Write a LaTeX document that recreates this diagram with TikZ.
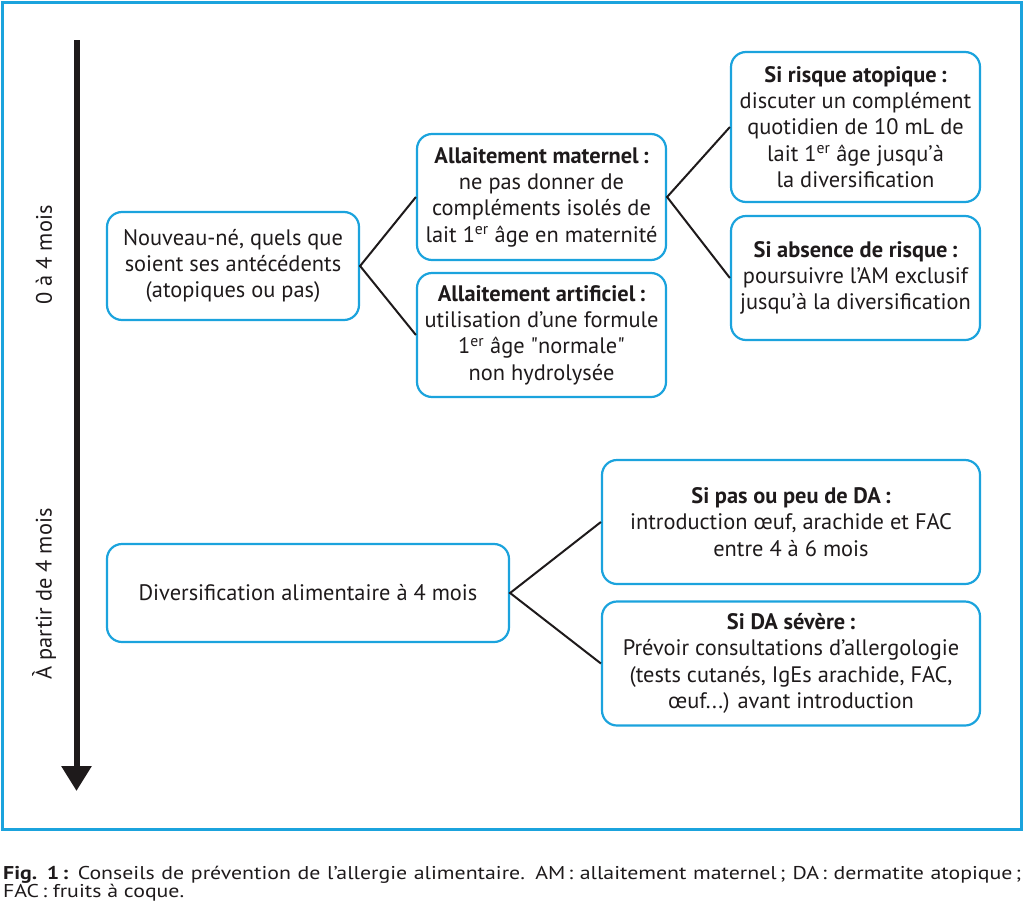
\documentclass[tikz,border=0pt]{standalone}
\usepackage{fontspec}
\setmainfont{PT Sans}
\newfontfamily\capfont[FakeStretch=1.18]{PT Sans}
\usetikzlibrary{arrows.meta}
\definecolor{frameblue}{HTML}{1BA3DD}
\definecolor{ink}{HTML}{1E1A1B}
\newcommand\bodyfs{\fontsize{22.4}{26.3}\selectfont}
\newcommand\capfs{\capfont\fontsize{18.5}{21}\selectfont}
\tikzset{
  infobox/.style={draw=frameblue, line width=2.2pt, rounded corners=15pt, align=center,
    text=ink, font=\bodyfs, inner sep=0pt},
  link/.style={draw=ink, line width=2pt},
  phase/.style={rotate=90, text=ink, font=\bodyfs, inner sep=0pt},
  captext/.style={anchor=base west, text=ink, font=\capfs, inner sep=0pt}
}
\begin{document}
\begin{tikzpicture}[x=1pt,y=-1pt]
\useasboundingbox (0,0) rectangle (1024,910);
\draw[frameblue, line width=3pt] (2.5,2.5) rectangle (1021.5,829.5);
% time arrow
\coordinate (tstart) at (76.5,40);
\coordinate (tend) at (76.5,791);
\draw[ink, line width=6pt, -{Triangle[width=29pt,length=25pt]}] (tstart) -- (tend);
\node[phase] (p1) at (44,255) {0 à 4 mois};
\node[phase] (p2) at (44,594) {À partir de 4 mois};
% boxes
\node[infobox, minimum width=252pt, minimum height=108pt] (nn) at (233,266)
  {Nouveau-né, quels que\\soient ses antécédents\\(atopiques ou pas)};
\node[infobox, minimum width=249pt, minimum height=126pt] (am) at (541.5,197)
  {\textbf{Allaitement maternel\,:}\\ne pas donner de\\compléments isolés de\\lait 1\textsuperscript{er} âge en maternité};
\node[infobox, minimum width=249pt, minimum height=124pt] (aa) at (541.5,335)
  {\textbf{Allaitement artificiel\,:}\\utilisation d’une formule\\1\textsuperscript{er} âge \textquotedbl normale\textquotedbl\\non hydrolysée};
\node[infobox, minimum width=249pt, minimum height=150pt] (ra) at (855.5,127)
  {\textbf{Si risque atopique\,:}\\discuter un complément\\quotidien de 10 mL de\\lait 1\textsuperscript{er} âge jusqu’à\\la diversification};
\node[infobox, minimum width=249pt, minimum height=124pt] (ar) at (855.5,278)
  {\textbf{Si absence de risque\,:}\\poursuivre l’AM exclusif\\jusqu’à la diversification};
\node[infobox, minimum width=402pt, minimum height=98pt] (dv) at (308,593)
  {Diversification alimentaire à 4 mois};
\node[infobox, minimum width=378pt, minimum height=124pt] (pp) at (791,522)
  {\textbf{Si pas ou peu de DA\,:}\\introduction œuf, arachide et FAC\\entre 4 à 6 mois};
\node[infobox, minimum width=378pt, minimum height=124pt] (ds) at (791,663.5)
  {\textbf{Si DA sévère\,:}\\Prévoir consultations d’allergologie\\(tests cutanés, IgEs arachide, FAC,\\œuf...) avant introduction};
% connectors
\draw[link] (am.west) -- (nn.east) -- (aa.west);
\draw[link] (ra.west) -- (am.east) -- (ar.west);
\draw[link] (pp.west) -- (dv.east) -- (ds.west);
% caption
\node[captext] (cap1) at (3,879)
  {\hbox to 1018pt{\textbf{Fig. 1\,:} Conseils de prévention de l’allergie alimentaire. AM\,: allaitement maternel\,; DA\,: dermatite atopique\,;}};
\node[captext] (cap2) at (3,897) {FAC\,: fruits à coque.};
\end{tikzpicture}
\end{document}
